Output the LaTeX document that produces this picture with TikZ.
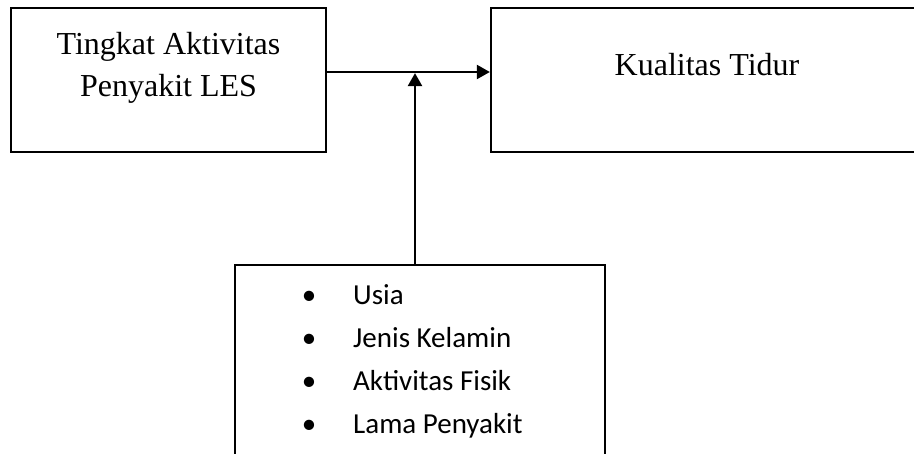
\documentclass[tikz,border=0pt]{standalone}
\usepackage{fontspec}
\setmainfont{Liberation Serif}
\newfontfamily\calfont{Carlito}
\usetikzlibrary{arrows.meta}
\tikzset{
  boxnode/.style={draw=black, line width=2.3pt, rectangle, inner sep=0pt},
  sertext/.style={font=\fontsize{32}{42}\selectfont, inner sep=0pt},
  caltext/.style={font=\calfont\fontsize{29}{36}\selectfont, inner sep=0pt, anchor=base west},
  bul/.style={font=\calfont\fontsize{29}{36}\selectfont, inner sep=0pt, anchor=base},
  arr/.style={line width=2.3pt, -{Triangle[length=13pt,width=14pt]}}
}
\begin{document}
\begin{tikzpicture}[x=1pt,y=1pt]
\useasboundingbox (0,0) rectangle (914,-454);
\clip (0,0) rectangle (914,-454);
% boxes
\node[boxnode, minimum width=315pt, minimum height=144pt] (les) at (168.5,-80) {};
\node[boxnode, minimum width=432pt, minimum height=144pt] (kt) at (707,-80) {};
\node[boxnode, minimum width=370pt, minimum height=210pt] (fac) at (420,-370) {};
% texts
\node[sertext, anchor=base] (lesa) at (168.5,-55) {Tingkat Aktivitas};
\node[sertext, anchor=base] (lesb) at (168.5,-97) {Penyakit LES};
\node[sertext, anchor=base] (ktt) at (707,-76) {Kualitas Tidur};
\node[bul] (b1) at (309,-305) {•};
\node[caltext] (t1) at (353,-305) {Usia};
\node[bul] (b2) at (309,-348) {•};
\node[caltext] (t2) at (353,-348) {Jenis Kelamin};
\node[bul] (b3) at (309,-391) {•};
\node[caltext] (t3) at (353,-391) {Aktivitas Fisik};
\node[bul] (b4) at (309,-434) {•};
\node[caltext] (t4) at (353,-434) {Lama Penyakit};
% connectors
\coordinate (j) at (415,-72);
\draw[arr] (les.east |- j) -- (kt.west |- j);
\draw[arr, shorten >=1.1pt] (j |- fac.north) -- (j);
\end{tikzpicture}
\end{document}
